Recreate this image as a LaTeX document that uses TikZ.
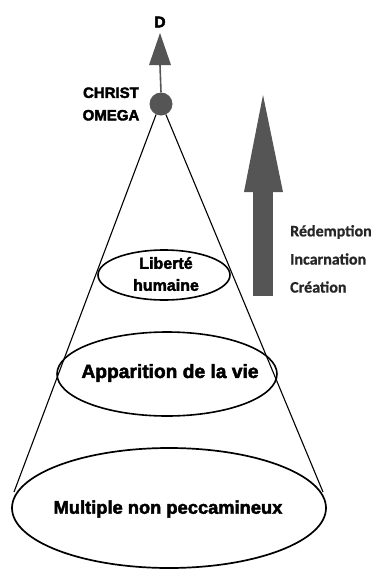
\documentclass[tikz,border=0pt]{standalone}
\usepackage{fontspec}
\setmainfont{Liberation Sans}
\newfontfamily\heavy[FakeBold=2.5]{Liberation Sans Bold}
\newfontfamily\sidefont[FakeBold=0.8]{Carlito Bold}
\usetikzlibrary{shapes.geometric}
\definecolor{arrowgray}{HTML}{555555}
\begin{document}
\begin{tikzpicture}[x=1pt,y=-1pt,
  lbl/.style={align=center, inner sep=0pt},
  side/.style={font=\sidefont\fontsize{16}{17}\selectfont, anchor=west, inner sep=0pt, text=black!85},
  cone/.style={draw=black, line width=1.1pt}]
\useasboundingbox (0,0) rectangle (374,571);
% bottom ellipse
\draw[line width=1.7pt] (169,508) ellipse [x radius=157, y radius=60];
\node[lbl, font=\heavy\fontsize{18.3}{20}\selectfont] (mult) at (168,509) {Multiple non peccamineux};
% middle ellipse
\draw[line width=1.6pt] (167,374) ellipse [x radius=110, y radius=42];
\node[lbl, font=\heavy\fontsize{19.2}{21}\selectfont] (vie) at (170,373) {Apparition de la vie};
% top ellipse
\draw[line width=1.6pt] (164,275) ellipse [x radius=66, y radius=25];
\node[lbl, font=\heavy\fontsize{16}{22}\selectfont] (lib) at (166,274) {Libert\'e\\humaine};
% apex
\node[circle, fill=arrowgray, minimum size=23pt, inner sep=0pt] (omega) at (161,104) {};
\coordinate (bl) at (14,492);
\coordinate (br) at (323,492);
\draw[cone] (omega.-115) -- (bl);
\draw[cone] (omega.-65) -- (br);
% arrow to D
\coordinate (dbase) at (160,65);
\draw[arrowgray, line width=1.6pt] (omega.north) -- (dbase);
\fill[arrowgray] (149,65) -- (160,33) -- (171,65) -- cycle;
\node[lbl, font=\heavy\fontsize{15.5}{17}\selectfont] (D) at (160,22) {D};
\node[lbl, font=\heavy\fontsize{15}{22.5}\selectfont] (christ) at (111,104) {CHRIST\\OMEGA};
% big arrow
\fill[arrowgray] (253,190) rectangle (273,296);
\fill[arrowgray] (244,192) -- (263,95) -- (283,192) -- cycle;
\node[side] (red) at (290,232) {R\'edemption};
\node[side] (inc) at (290,259) {Incarnation};
\node[side] (cre) at (290,287) {Cr\'eation};
\end{tikzpicture}
\end{document}
